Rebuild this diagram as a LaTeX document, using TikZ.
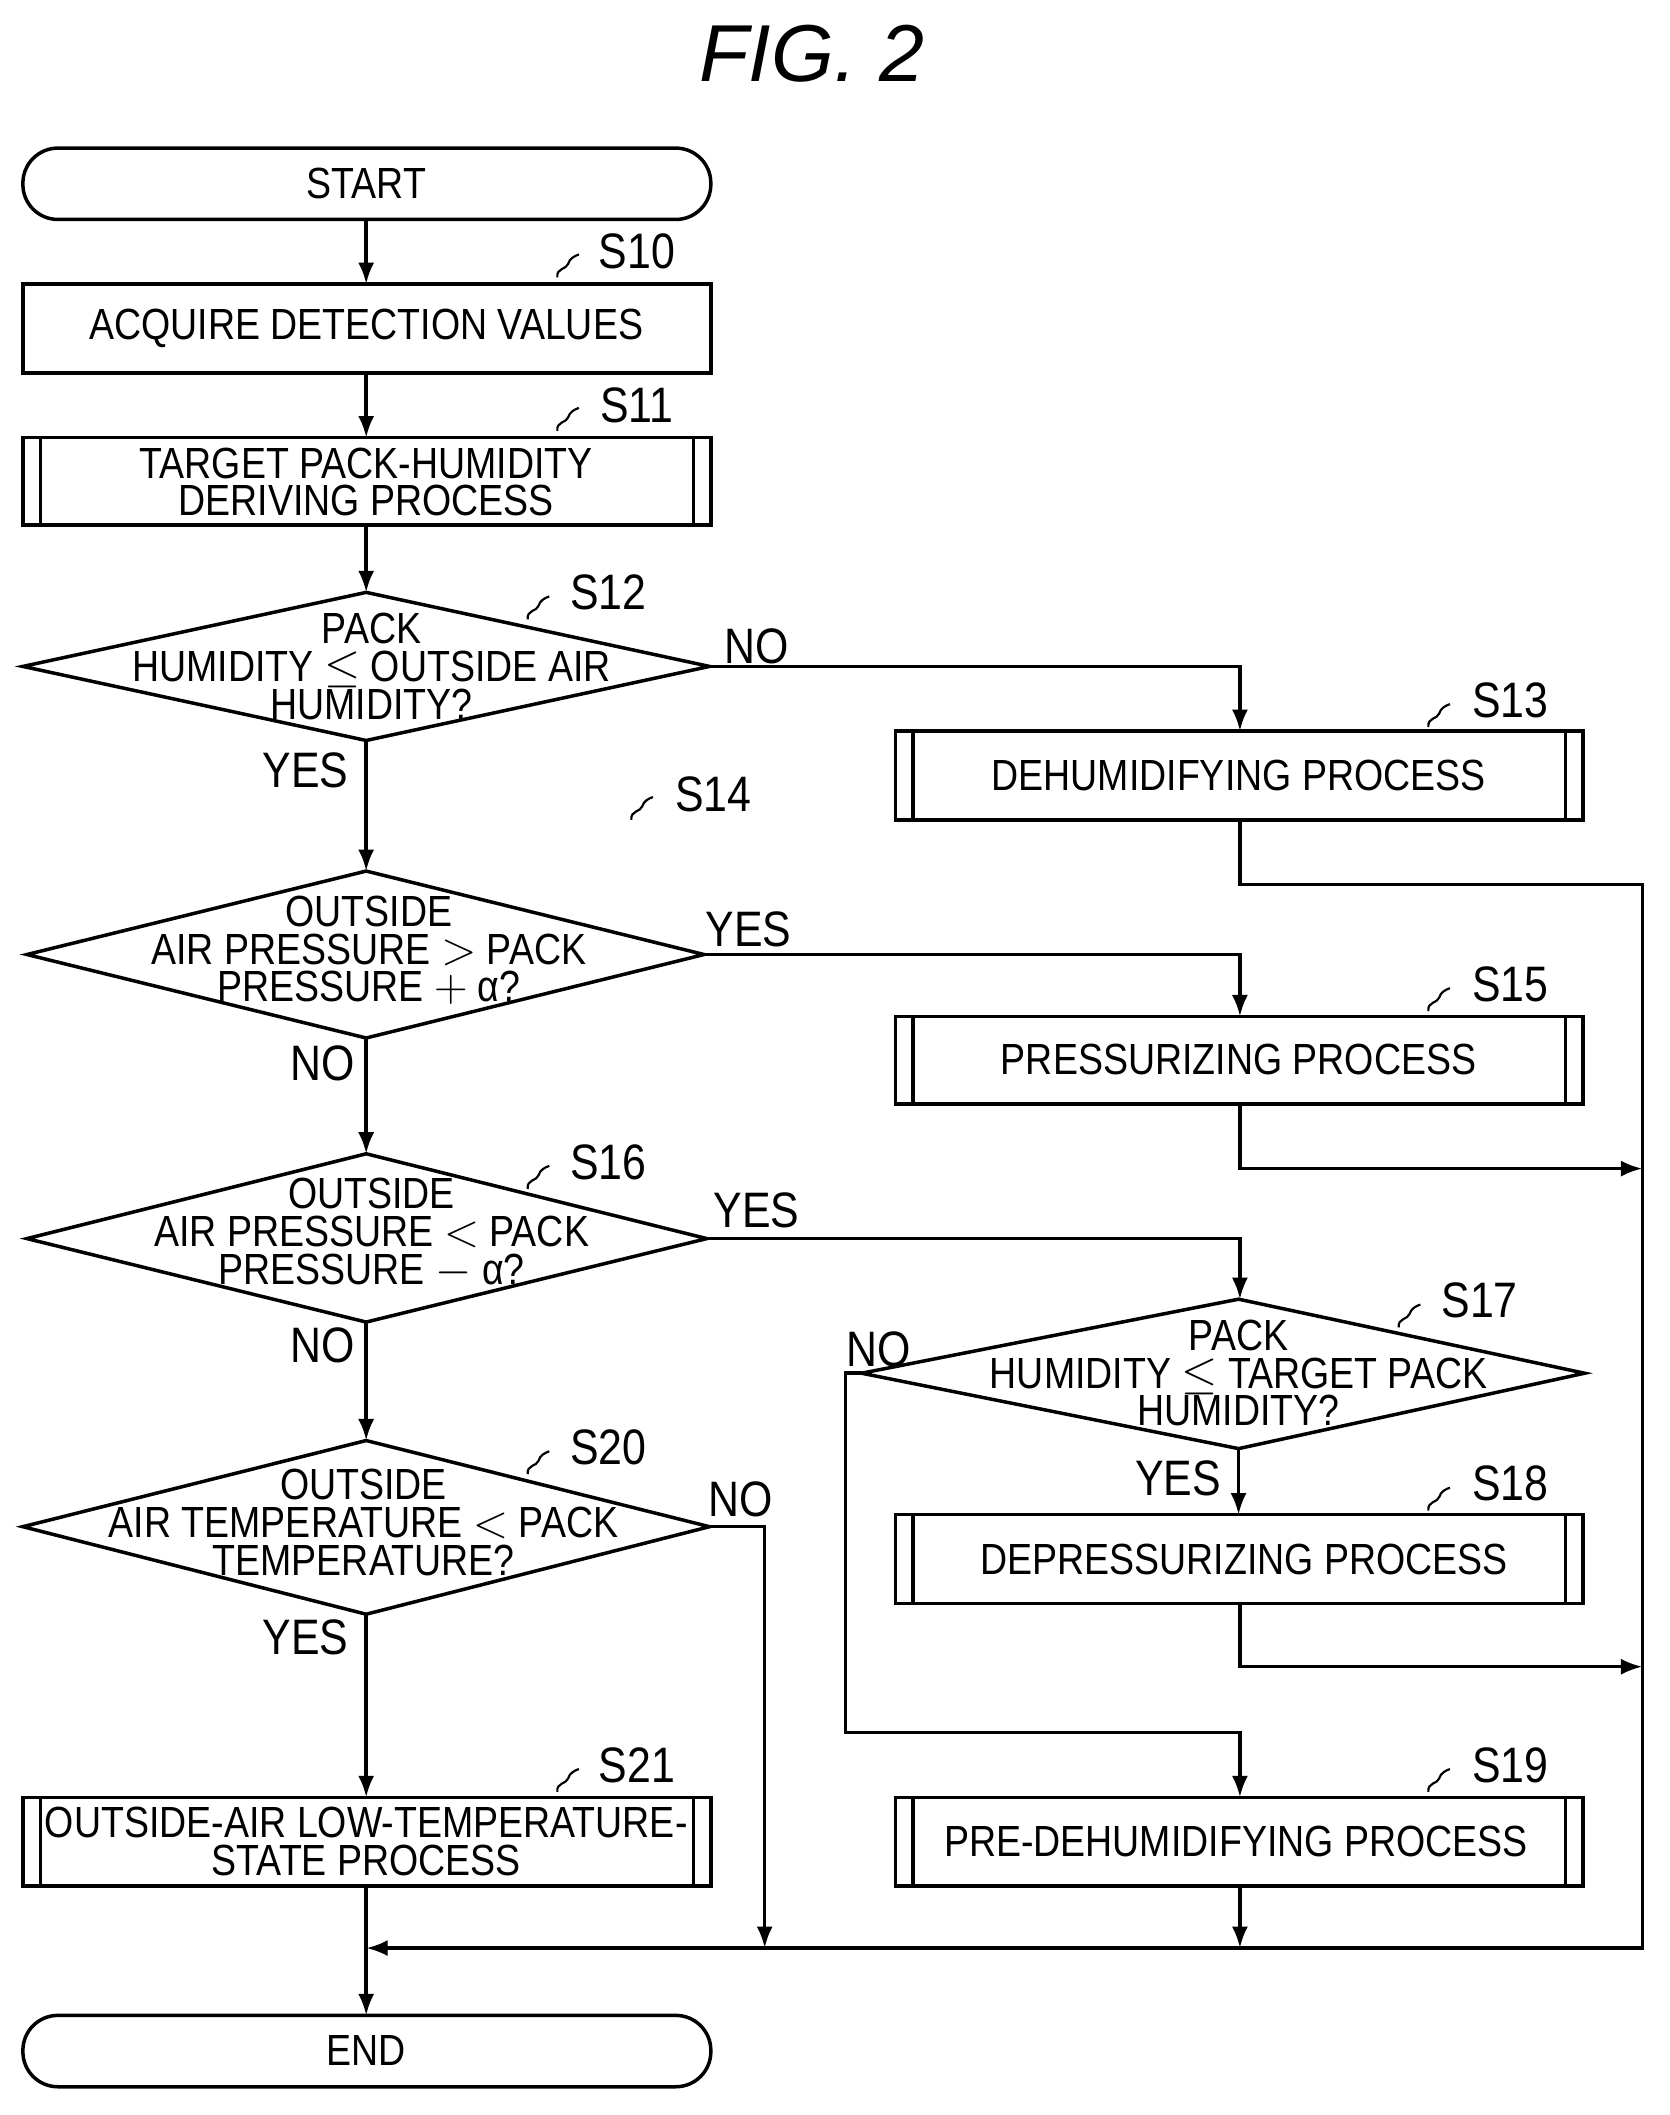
\documentclass[tikz,border=0pt]{standalone}
\usepackage{fontspec}
\usetikzlibrary{arrows.meta}
\setmainfont{Liberation Sans}[FakeStretch=0.86]
\newfontfamily\titlefont{Liberation Sans}
\begin{document}
\begin{tikzpicture}[x=0.5pt,y=-0.5pt,line width=1.3pt,
  txt/.style={font=\fontsize{16.2}{14}\selectfont,align=center,inner sep=0},
  lbl/.style={font=\fontsize{18.5}{18.5}\selectfont,inner sep=0},
  arr/.style={-{Latex[length=8pt,width=6pt]}},
  ln/.style={}]
\useasboundingbox (0,0) rectangle (1240,1571);
\node[inner sep=0,font=\titlefont\itshape\fontsize{30}{30}\selectfont] (title) at (603,40) {FIG. 2};
\newcommand\squig[2]{\draw[line width=0.8pt] (#1-8,#2+8) .. controls (#1-9,#2+1) and (#1-1,#2+2) .. (#1,#2-2) .. controls (#1+1,#2-6) and (#1+5,#2-8) .. (#1+8,#2-9);}
% terminals
\draw[rounded corners=13pt] (17,110) rectangle (528,163);
\node[txt] (start) at (272,136) {START};
\draw[rounded corners=13pt] (17,1497) rectangle (528,1550);
\node[txt] (end) at (272,1523) {END};
% plain box
\draw (17,211) rectangle (528,277);
\node[txt] (s10) at (272,244) {ACQUIRE DETECTION VALUES};
% subprocess boxes
\newcommand\subbox[5]{\draw (#1,#2) rectangle (#3,#4); \draw (#1+13,#2) -- (#1+13,#4) (#3-13,#2) -- (#3-13,#4);}
\subbox{17}{325}{528}{390}{}
\node[txt] (s11) at (272,358) {TARGET PACK-HUMIDITY\\DERIVING PROCESS};
\subbox{665}{543}{1176}{609}{}
\node[txt] (s13) at (920,576) {DEHUMIDIFYING PROCESS};
\subbox{665}{755}{1176}{820}{}
\node[txt] (s15) at (920,787) {PRESSURIZING PROCESS};
\subbox{665}{1125}{1176}{1191}{}
\node[txt] (s18) at (924,1158) {DEPRESSURIZING PROCESS};
\subbox{665}{1335}{1176}{1401}{}
\node[txt] (s19) at (918,1368) {PRE-DEHUMIDIFYING PROCESS};
\subbox{17}{1335}{528}{1401}{}
\node[txt] (s21) at (272,1368) {OUTSIDE-AIR LOW-TEMPERATURE-\\STATE PROCESS};
% diamonds
\draw (17,495) -- (272,440) -- (527,495) -- (272,550) -- cycle;
\node[txt] (s12) at (276,495) {PACK\\HUMIDITY $\leq$ OUTSIDE AIR\\HUMIDITY?};
\draw (20,709) -- (272,647) -- (523,709) -- (272,771) -- cycle;
\node[txt] (s14) at (274,706) {OUTSIDE\\AIR PRESSURE $>$ PACK\\PRESSURE $+$ α?};
\draw (20,920) -- (272,857) -- (525,920) -- (272,982) -- cycle;
\node[txt] (s16) at (276,916) {OUTSIDE\\AIR PRESSURE $<$ PACK\\PRESSURE $-$ α?};
\draw (640,1020) -- (920,965) -- (1177,1020) -- (920,1076) -- cycle;
\node[txt] (s17) at (920,1020) {PACK\\HUMIDITY $\leq$ TARGET PACK\\HUMIDITY?};
\draw (17,1134) -- (272,1070) -- (527,1134) -- (272,1199) -- cycle;
\node[txt] (s20) at (270,1131) {OUTSIDE\\AIR TEMPERATURE $<$ PACK\\TEMPERATURE?};
% step labels
\node[lbl] (l10) at (473,187) {S10}; \squig{422}{198}
\node[lbl] (l11) at (473,301) {S11}; \squig{422}{312}
\node[lbl] (l12) at (452,440) {S12}; \squig{400}{452}
\node[lbl] (l13) at (1122,520) {S13}; \squig{1069}{532}
\node[lbl] (l14) at (530,590) {S14}; \squig{477}{601}
\node[lbl] (l15) at (1122,731) {S15}; \squig{1069}{743}
\node[lbl] (l16) at (452,863) {S16}; \squig{400}{875}
\node[lbl] (l17) at (1099,966) {S17}; \squig{1047}{978}
\node[lbl] (l18) at (1122,1102) {S18}; \squig{1069}{1114}
\node[lbl] (l19) at (1122,1311) {S19}; \squig{1069}{1323}
\node[lbl] (l20) at (452,1075) {S20}; \squig{400}{1087}
\node[lbl] (l21) at (473,1311) {S21}; \squig{422}{1323}
% yes/no labels
\node[lbl] (n12) at (562,480) {NO};
\node[lbl] (y12) at (227,572) {YES};
\node[lbl] (y14) at (556,690) {YES};
\node[lbl] (n14) at (240,790) {NO};
\node[lbl] (y16) at (562,899) {YES};
\node[lbl] (n16) at (240,999) {NO};
\node[lbl] (n17) at (653,1002) {NO};
\node[lbl] (y17) at (875,1098) {YES};
\node[lbl] (n20) at (550,1114) {NO};
\node[lbl] (y20) at (227,1216) {YES};
% connectors
\draw[arr] (272,163) -- (272,211);
\draw[arr] (272,277) -- (272,325);
\draw[arr] (272,390) -- (272,440);
\draw[arr] (272,550) -- (272,647);
\draw[arr] (272,771) -- (272,857);
\draw[arr] (272,982) -- (272,1070);
\draw[arr] (272,1199) -- (272,1335);
\draw[arr] (272,1401) -- (272,1497);
\draw[arr] (527,495) -- (921,495) -- (921,543);
\draw[arr] (523,709) -- (921,709) -- (921,755);
\draw[arr] (525,920) -- (921,920) -- (921,965);
\draw[arr] (920,1076) -- (920,1125);
\draw[arr] (640,1020) -- (628,1020) -- (628,1287) -- (921,1287) -- (921,1335);
\draw[arr] (527,1134) -- (568,1134) -- (568,1447);
\draw[arr] (921,609) -- (921,657) -- (1220,657) -- (1220,1447) -- (272,1447);
\draw[arr] (921,820) -- (921,868) -- (1220,868);
\draw[arr] (921,1191) -- (921,1238) -- (1220,1238);
\draw[arr] (921,1401) -- (921,1447);
\end{tikzpicture}
\end{document}
